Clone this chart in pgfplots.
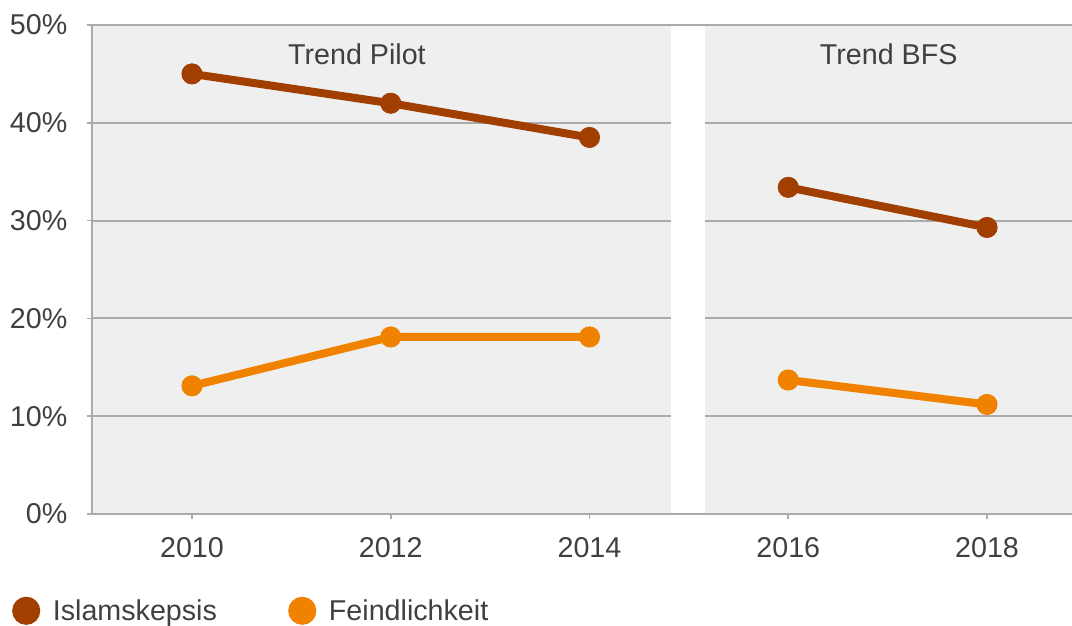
\documentclass[border=0pt]{standalone}
\usepackage{pgfplots}
\pgfplotsset{compat=1.18}
\usetikzlibrary{calc}
\usepackage{fontspec}
\setmainfont{Liberation Sans}
\definecolor{isl}{HTML}{A03F00}
\definecolor{fei}{HTML}{F08200}
\definecolor{bg}{HTML}{EFEFEF}
\definecolor{gridc}{HTML}{ABABAB}
\definecolor{txt}{HTML}{404040}
\begin{document}
\begin{tikzpicture}[font=\fontsize{21.5}{25}\selectfont]
\begin{axis}[name=ax, scale only axis, width=735pt, height=366.75pt,
  xmin=2008.994, xmax=2018.855, ymin=0, ymax=50,
  axis x line=bottom, axis y line=left,
  axis line style={-, gridc, line width=1.5pt},
  axis background/.style={fill=bg},
  xtick={2010,2012,2014,2016,2018}, ytick={0,10,20,30,40,50},
  ymajorgrids, grid style={gridc, line width=1.5pt},
  tick align=outside, major tick length=4pt,
  tick style={gridc, line width=1.2pt},
  /pgf/number format/assume math mode=true,
  x tick label style={/pgf/number format/1000 sep={}, text=txt, yshift=-10pt},
  yticklabel={\pgfmathprintnumber{\tick}\%},
  y tick label style={text=txt, xshift=-11pt},
  clip=false,
  unbounded coords=jump,
  legend columns=2,
  legend style={at={(-0.0817,-0.198)}, anchor=west, draw=none, fill=none,
    inner sep=0pt, font=\fontsize{21.5}{25}\selectfont\color{txt},
    /tikz/every even column/.append style={column sep=51.5pt}},
  legend cell align=left,
]
\fill[white] (axis cs:2014.825,0.12) rectangle (axis cs:2015.167,49.88);
\addplot[isl, line width=6pt, mark=*, mark size=7.6pt, mark options={line width=0.6pt},
  legend image code/.code={\fill[isl] (7.5pt,0pt) circle (7.5pt); \path[draw=none,fill=none] (0pt,0pt) rectangle (25.5pt,0.1pt);}]
  coordinates {(2010,45.0)(2012,42.0)(2014,38.5)(2015,nan)(2016,33.4)(2018,29.3)};
\addlegendentry{Islamskepsis}
\addplot[fei, line width=6pt, mark=*, mark size=7.6pt, mark options={line width=0.6pt},
  legend image code/.code={\fill[fei] (7.5pt,0pt) circle (7.5pt); \path[draw=none,fill=none] (0pt,0pt) rectangle (25.5pt,0.1pt);}]
  coordinates {(2010,13.1)(2012,18.1)(2014,18.1)(2015,nan)(2016,13.7)(2018,11.2)};
\addlegendentry{Feindlichkeit}
\node[text=txt] at (axis cs:2011.66,47.0) {Trend Pilot};
\node[text=txt] at (axis cs:2017.01,47.0) {Trend BFS};
\end{axis}
\pgfresetboundingbox
\path[use as bounding box] ($(ax.south west)+(-69pt,-84pt)$) rectangle ($(ax.north east)+(0pt,18.75pt)$);
\end{tikzpicture}
\end{document}
